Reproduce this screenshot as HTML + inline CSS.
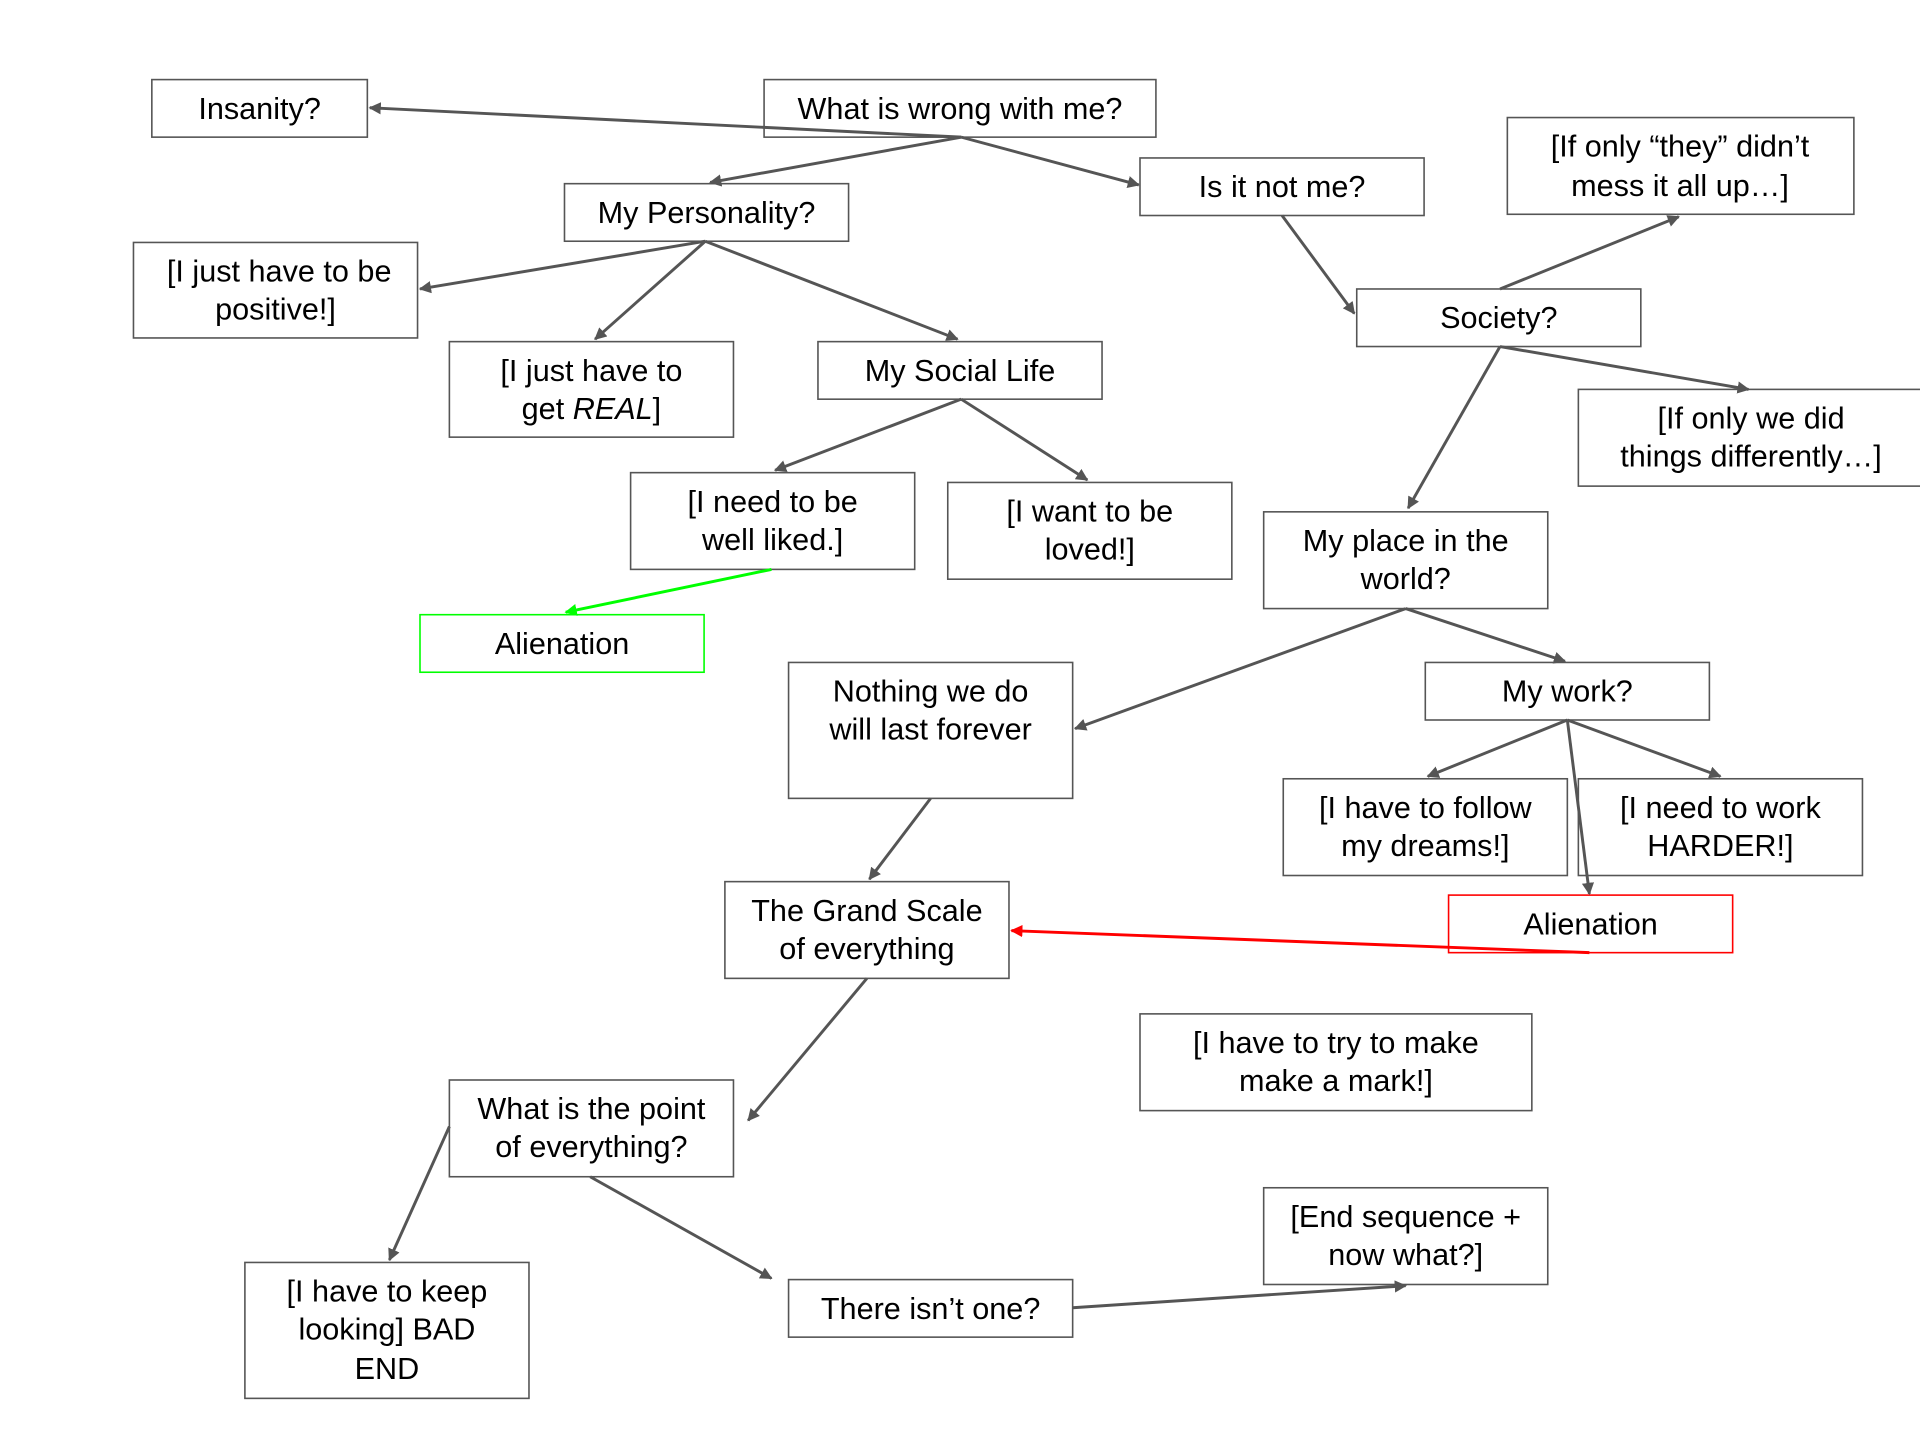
<!DOCTYPE html>
<html><head><meta charset="utf-8"><style>
html,body{margin:0;padding:0;background:#fff;width:1920px;height:1440px;overflow:hidden}
svg{display:block}
text{font-family:"Liberation Sans","DejaVu Sans",sans-serif;font-size:25px;fill:#000;text-anchor:middle}
rect{fill:#fff;stroke:#555;stroke-width:1.3}
line{stroke:#555;stroke-width:2.4}
</style></head><body>
<svg width="1920" height="1440" viewBox="0 0 1568 1176" xmlns="http://www.w3.org/2000/svg">
<defs>
<marker id="a" markerWidth="10" markerHeight="10" refX="9" refY="5" orient="auto" markerUnits="userSpaceOnUse" viewBox="0 0 10 10"><path d="M0,0 L10,5 L0,10 z" fill="#555"/></marker>
<marker id="g" markerWidth="10" markerHeight="10" refX="9" refY="5" orient="auto" markerUnits="userSpaceOnUse" viewBox="0 0 10 10"><path d="M0,0 L10,5 L0,10 z" fill="#0f0"/></marker>
<marker id="r" markerWidth="10" markerHeight="10" refX="9" refY="5" orient="auto" markerUnits="userSpaceOnUse" viewBox="0 0 10 10"><path d="M0,0 L10,5 L0,10 z" fill="#f00"/></marker>
</defs>
<g>
<rect x="124" y="65" width="176" height="47"/>
<rect x="624" y="65" width="320" height="47"/>
<rect x="461" y="150" width="232" height="47"/>
<rect x="931" y="129" width="232" height="47"/>
<rect x="1231" y="96" width="283" height="79"/>
<rect x="109" y="198" width="232" height="78"/>
<rect x="367" y="279" width="232" height="78"/>
<rect x="668" y="279" width="232" height="47"/>
<rect x="1108" y="236" width="232" height="47"/>
<rect x="1289" y="318" width="290" height="79"/>
<rect x="515" y="386" width="232" height="79"/>
<rect x="774" y="394" width="232" height="79"/>
<rect x="1032" y="418" width="232" height="79"/>
<rect x="343" y="502" width="232" height="47" style="stroke:#0f0"/>
<rect x="644" y="541" width="232" height="111"/>
<rect x="1164" y="541" width="232" height="47"/>
<rect x="1048" y="636" width="232" height="79"/>
<rect x="1289" y="636" width="232" height="79"/>
<rect x="1183" y="731" width="232" height="47" style="stroke:#f00"/>
<rect x="592" y="720" width="232" height="79"/>
<rect x="931" y="828" width="320" height="79"/>
<rect x="367" y="882" width="232" height="79"/>
<rect x="1032" y="970" width="232" height="79"/>
<rect x="200" y="1031" width="232" height="111"/>
<rect x="644" y="1045" width="232" height="47"/>
</g>
<g>
<line x1="785" y1="112" x2="302" y2="88" marker-end="url(#a)"/>
<line x1="785" y1="112" x2="580" y2="149" marker-end="url(#a)"/>
<line x1="785" y1="112" x2="930" y2="151" marker-end="url(#a)"/>
<line x1="576" y1="197" x2="343" y2="236" marker-end="url(#a)"/>
<line x1="576" y1="197" x2="486" y2="277" marker-end="url(#a)"/>
<line x1="576" y1="197" x2="782" y2="277" marker-end="url(#a)"/>
<line x1="1047" y1="176" x2="1106" y2="256" marker-end="url(#a)"/>
<line x1="1225" y1="236" x2="1371" y2="177" marker-end="url(#a)"/>
<line x1="1225" y1="283" x2="1428" y2="318" marker-end="url(#a)"/>
<line x1="1225" y1="283" x2="1150" y2="415" marker-end="url(#a)"/>
<line x1="785" y1="326" x2="633" y2="384" marker-end="url(#a)"/>
<line x1="785" y1="326" x2="888" y2="392" marker-end="url(#a)"/>
<line x1="630" y1="465" x2="462" y2="500" marker-end="url(#g)" style="stroke:#0f0"/>
<line x1="1148" y1="497" x2="878" y2="595" marker-end="url(#a)"/>
<line x1="1148" y1="497" x2="1278" y2="540" marker-end="url(#a)"/>
<line x1="1280" y1="588" x2="1166" y2="634" marker-end="url(#a)"/>
<line x1="1280" y1="588" x2="1405" y2="634" marker-end="url(#a)"/>
<line x1="1280" y1="588" x2="1298" y2="730" marker-end="url(#a)"/>
<line x1="760" y1="652" x2="710" y2="718" marker-end="url(#a)"/>
<line x1="1298" y1="778" x2="826" y2="760" marker-end="url(#r)" style="stroke:#f00"/>
<line x1="708" y1="799" x2="611" y2="915" marker-end="url(#a)"/>
<line x1="367" y1="920" x2="318" y2="1029" marker-end="url(#a)"/>
<line x1="482" y1="961" x2="630" y2="1044" marker-end="url(#a)"/>
<line x1="876" y1="1068" x2="1148" y2="1050" marker-end="url(#a)"/>
</g>
<g>
<text x="212" y="97">Insanity?</text>
<text x="784" y="97">What is wrong with me?</text>
<text x="577" y="182">My Personality?</text>
<text x="1047" y="161">Is it not me?</text>
<text x="1372" y="128">[If only “they” didn’t</text><text x="1372" y="160">mess it all up…]</text>
<text x="228" y="230">[I just have to be</text><text x="225" y="261">positive!]</text>
<text x="483" y="311">[I just have to</text><text x="483" y="342">get <tspan font-style="italic">REAL</tspan>]</text>
<text x="784" y="311">My Social Life</text>
<text x="1224" y="268">Society?</text>
<text x="1430" y="350">[If only we did</text><text x="1430" y="381">things differently…]</text>
<text x="631" y="418">[I need to be</text><text x="631" y="449">well liked.]</text>
<text x="890" y="426">[I want to be</text><text x="890" y="457">loved!]</text>
<text x="1148" y="450">My place in the</text><text x="1148" y="481">world?</text>
<text x="459" y="534">Alienation</text>
<text x="760" y="573">Nothing we do</text><text x="760" y="604">will last forever</text>
<text x="1280" y="573">My work?</text>
<text x="1164" y="668">[I have to follow</text><text x="1164" y="699">my dreams!]</text>
<text x="1405" y="668">[I need to work</text><text x="1405" y="699">HARDER!]</text>
<text x="1299" y="763">Alienation</text>
<text x="708" y="752">The Grand Scale</text><text x="708" y="783">of everything</text>
<text x="1091" y="860">[I have to try to make</text><text x="1091" y="891">make a mark!]</text>
<text x="483" y="914">What is the point</text><text x="483" y="945">of everything?</text>
<text x="1148" y="1002">[End sequence +</text><text x="1148" y="1033">now what?]</text>
<text x="316" y="1063">[I have to keep</text><text x="316" y="1094">looking] BAD</text><text x="316" y="1126">END</text>
<text x="760" y="1077">There isn’t one?</text>
</g>
</svg>
</body></html>
